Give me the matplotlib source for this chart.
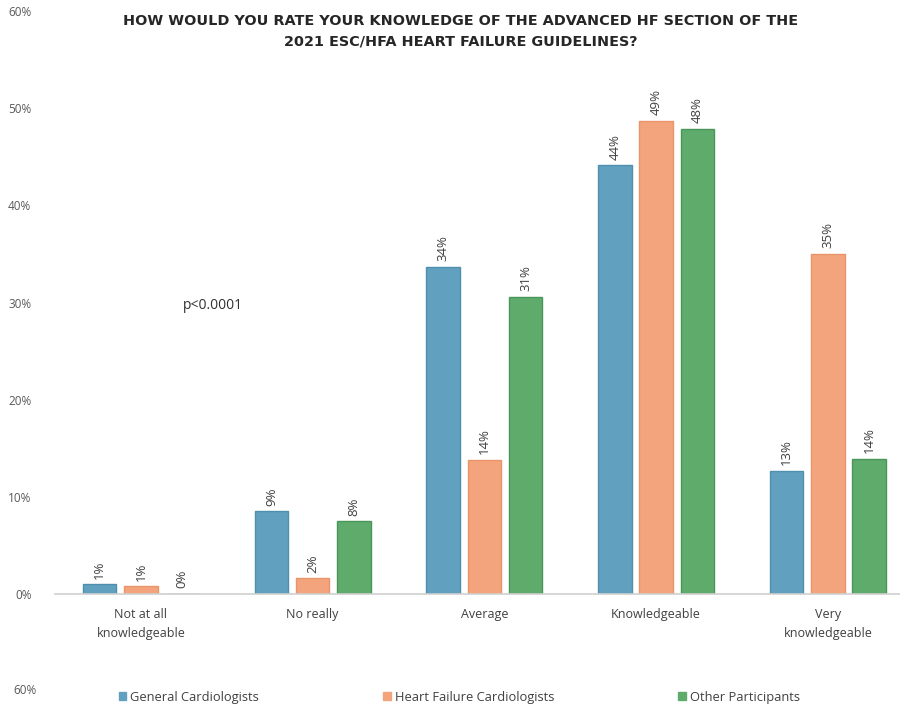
import numpy as np
import matplotlib
matplotlib.use("Agg")
import matplotlib.pyplot as plt
from matplotlib.patches import Patch

# survey answers, % of respondents per group
categories = ["Not at all\nknowledgeable", "No really", "Average",
              "Knowledgeable", "Very\nknowledgeable"]
general = [1.0, 8.5, 33.7, 44.1, 12.7]
heart_failure = [0.8, 1.6, 13.8, 48.7, 35.0]
other = [0.0, 7.5, 30.6, 47.9, 13.9]
series_names = ["General Cardiologists", "Heart Failure Cardiologists",
                "Other Participants"]
yticks = [0, 10, 20, 30, 40, 50, 60]

colors = ["#62a0bf", "#f4a47c", "#5fab6c"]
edges = ["#4f8fae", "#e8956c", "#4a9658"]
txt = "#404040"

plt.rcParams["font.family"] = ["Open Sans", "DejaVu Sans"]

fig = plt.figure(figsize=(9, 7.1), dpi=100)
ax = fig.add_axes([55 / 900, 116 / 710, 845 / 900, 583 / 710])

x = np.arange(len(categories))
step, width = 0.24, 0.195
for i, (vals, c, ec) in enumerate(zip([general, heart_failure, other], colors, edges)):
    xs = x + (i - 1) * step
    ax.bar(xs, vals, width, color=c, edgecolor=ec, linewidth=1.0)
    for xi, v in zip(xs, vals):
        ax.annotate(f"{int(v + 0.5)}%", (xi, v), xytext=(0, 4),
                    textcoords="offset points", rotation=90,
                    ha="center", va="bottom", fontsize=9.5, color=txt)

ax.set_xlim(-0.5, 4.42)
ax.set_ylim(0, 60)
ax.set_xticks(x)
ax.set_xticklabels(categories, fontsize=9, color=txt, linespacing=1.6)
ax.set_yticks(yticks)
ax.set_yticklabels([f"{t}%" for t in yticks], fontsize=8.5, color="#595959")
ax.tick_params(axis="both", length=0)
ax.tick_params(axis="y", pad=17)
ax.tick_params(axis="x", pad=10)
for side in ["top", "right", "left"]:
    ax.spines[side].set_visible(False)
ax.spines["bottom"].set_color("#d0d0d0")
ax.spines["bottom"].set_linewidth(1.2)

ax.text(0.42, 29.3, "p<0.0001", fontsize=10, color="#303030", ha="center")

fig.text(0.512, 1 - 31 / 710,
         "HOW WOULD YOU RATE YOUR KNOWLEDGE OF THE ADVANCED HF SECTION OF THE\n"
         "2021 ESC/HFA HEART FAILURE GUIDELINES?",
         ha="center", va="center", fontsize=10.4, fontweight="bold",
         family="DejaVu Sans", color="#262626", linespacing=1.55)

fig.text(25 / 900, 1 - 690 / 710, "60%", fontsize=8.5, color="#595959",
         ha="center", va="center")

handles = [Patch(facecolor=c, edgecolor=c) for c in colors]
fig.legend(handles, series_names, loc="center", ncol=3,
           bbox_to_anchor=(0.51, 1 - 697 / 710), frameon=False,
           fontsize=9.3, handlelength=0.6, handleheight=0.6,
           handletextpad=0.3, columnspacing=9.6, labelcolor=txt)

fig.savefig("out.png", dpi=100)
